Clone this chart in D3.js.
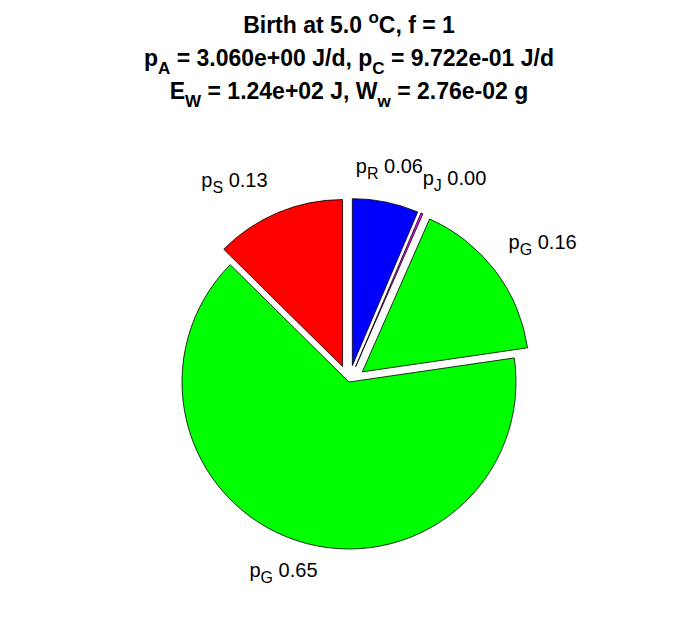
<!DOCTYPE html>
<html><head><meta charset="utf-8">
<script src="https://cdn.jsdelivr.net/npm/d3@7"></script>
<style>body{margin:0;background:#fff}svg{display:block}text{font-family:"Liberation Sans",Arial,Helvetica,sans-serif}</style>
</head><body>
<svg id="c" width="696" height="618"></svg>
<script>
// Data
const categories = ["R", "J", "G", "G", "S"];
const fractions = [0.064, 0.002, 0.161, 0.647, 0.126];
const labelValues = ["0.06", "0.00", "0.16", "0.65", "0.13"];
const exploded = [true, true, true, false, true];
const colors = ["#0000ff", "#ff00ff", "#00ff00", "#00ff00", "#ff0000"];
const titleLines = [
  [["Birth at 5.0 ", ""], ["o", "sup"], ["C, f = 1", ""]],
  [["p", ""], ["A", "sub"], [" = 3.060e+00 J/d, p", ""], ["C", "sub"], [" = 9.722e-01 J/d", ""]],
  [["E", ""], ["W", "sub"], [" = 1.24e+02 J, W", ""], ["w", "sub"], [" = 2.76e-02 g", ""]]
];

const svg = d3.select("#c");
const cx = 349, cy = 382, R = 167;
const g = svg.append("g").attr("transform", `translate(${cx},${cy})`);

const pie = d3.pie().sort(null).value(d => d.v);
const arcs = pie(categories.map((c, i) => ({c, v: fractions[i], i})));
const arc = d3.arc().innerRadius(0).outerRadius(R);

arcs.forEach(a => {
  const i = a.data.i;
  const mid = (a.startAngle + a.endAngle) / 2;
  const off = exploded[i] ? 0.1 * R : 0;
  const ox = Math.sin(mid) * off, oy = -Math.cos(mid) * off;
  g.append("path")
    .attr("d", arc(a))
    .attr("transform", `translate(${ox},${oy})`)
    .attr("fill", colors[i])
    .attr("stroke", "#000")
    .attr("stroke-width", 0.8);
  const s = Math.sin(mid);
  const lx = ox + s * 1.2 * R;
  const ly = oy - Math.cos(mid) * 1.2 * R;
  const t = g.append("text").attr("y", ly + 5 - 10 * Math.max(0, s - 0.1)).attr("font-size", 20).attr("fill", "#000");
  t.append("tspan").text("p");
  t.append("tspan").attr("font-size", 16).attr("dy", 6).text(a.data.c);
  t.append("tspan").attr("dy", -6).text(" " + labelValues[i]);
  const w = t.node().getComputedTextLength();
  let frac = 0.5;
  if (s > 0.35) frac = 0.15; else if (s < -0.35) frac = 0.92;
  t.attr("x", lx - frac * w - 3);
});

const baselines = [33, 66, 99];
titleLines.forEach((line, k) => {
  const t = svg.append("text").attr("x", 349).attr("y", baselines[k])
    .attr("text-anchor", "middle").attr("font-weight", "bold").attr("font-size", 23);
  let shift = 0;
  line.forEach(([s, type]) => {
    const sp = t.append("tspan").text(s);
    let target = 0;
    if (type === "sub") { sp.attr("font-size", 17); target = 8; }
    if (type === "sup") { sp.attr("font-size", 17); target = -10; }
    sp.attr("dy", target - shift);
    shift = target;
  });
});
</script>
</body></html>
